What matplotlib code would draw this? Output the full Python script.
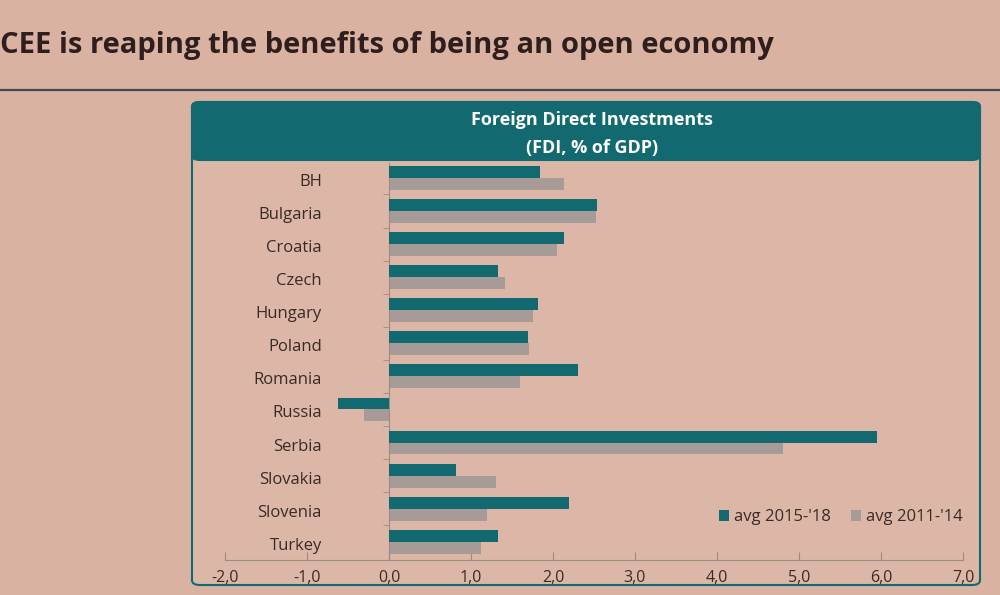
import numpy as np
import matplotlib
matplotlib.use("Agg")
import matplotlib.pyplot as plt
from matplotlib.patches import FancyBboxPatch
from matplotlib.lines import Line2D
import matplotlib.transforms as mtransforms

plt.rcParams['font.family'] = ['Open Sans', 'DejaVu Sans']

countries = ['BH', 'Bulgaria', 'Croatia', 'Czech', 'Hungary', 'Poland',
             'Romania', 'Russia', 'Serbia', 'Slovakia', 'Slovenia', 'Turkey']
avg_15_18 = [1.84, 2.54, 2.14, 1.33, 1.82, 1.69, 2.30, -0.62, 5.95, 0.82, 2.20, 1.33]
avg_11_14 = [2.13, 2.53, 2.05, 1.41, 1.75, 1.71, 1.60, -0.30, 4.80, 1.30, 1.20, 1.12]
xticks = [-2, -1, 0, 1, 2, 3, 4, 5, 6, 7]
xtick_labels = ['-2,0', '-1,0', '0,0', '1,0', '2,0', '3,0', '4,0', '5,0', '6,0', '7,0']

bg = '#d9b2a2'
panel_bg = '#dcb7a7'
teal = '#126a70'
grey = '#a69b96'
text_col = '#3a2a26'

W, H = 1000, 595
fig = plt.figure(figsize=(10, 5.95), dpi=100, facecolor=bg)

# slide title and rule
fig.text(0.0, 1 - 46 / H, 'CEE is reaping the benefits of being an open economy',
         fontsize=21, fontweight='bold', color='#2e1e1c', va='center', ha='left')
fig.add_artist(Line2D([0, 1], [1 - 90 / H, 1 - 90 / H], color='#3f4d4f', lw=1.6))

# chart panel with teal header
panel = FancyBboxPatch((192 / W, 1 - 585 / H), (980 - 192) / W, (585 - 102) / H,
                       boxstyle='round,pad=0,rounding_size=0.008',
                       transform=fig.transFigure, facecolor=panel_bg,
                       edgecolor=teal, lw=1.5, zorder=0)
fig.add_artist(panel)
header = FancyBboxPatch((192 / W, 1 - 160 / H), (980 - 192) / W, (160 - 102) / H,
                        boxstyle='round,pad=0,rounding_size=0.008',
                        transform=fig.transFigure, facecolor=teal,
                        edgecolor=teal, lw=1.5, zorder=0.5)
fig.add_artist(header)
fig.text(592 / W, 1 - 120 / H, 'Foreign Direct Investments', fontsize=13,
         fontweight='bold', color='white', ha='center', va='center')
fig.text(592 / W, 1 - 148 / H, '(FDI, % of GDP)', fontsize=13,
         fontweight='bold', color='white', ha='center', va='center')

ax = fig.add_axes([225 / W, 1 - 560 / H, (963 - 225) / W, (560 - 163) / H])
ax.set_facecolor('none')

y = np.arange(len(countries))
h = 0.36
ax.barh(y - 0.18, avg_15_18, height=h, color=teal, label="avg 2015-'18", zorder=3)
ax.barh(y + 0.18, avg_11_14, height=h, color=grey, label="avg 2011-'14", zorder=2)

ax.set_xlim(-2, 7)
ax.set_ylim(len(countries) - 0.45, -0.45)

for s in ['top', 'right']:
    ax.spines[s].set_visible(False)
ax.spines['left'].set_position(('data', 0))
ax.spines['left'].set_color('#9c8a84')
ax.spines['bottom'].set_color('#9c8a84')

ax.set_yticks([])
ax.set_yticks(np.arange(len(countries) - 1) + 0.5, minor=True)
ax.tick_params(axis='y', which='minor', length=4, direction='out',
               color='#9c8a84', labelleft=False)

ax.set_xticks(xticks)
ax.set_xticklabels(xtick_labels)
ax.tick_params(axis='x', direction='in', length=6, color='#9c8a84',
               labelsize=11.5, labelcolor=text_col, pad=7)

trans = mtransforms.blended_transform_factory(fig.transFigure, ax.transData)
for i, c in enumerate(countries):
    ax.text(322 / W, i + 0.12, c, transform=trans, ha='right', va='center',
            fontsize=12, color=text_col)

ax.legend(loc='lower right', bbox_to_anchor=(1.02, 0.05), ncol=2, frameon=False,
          fontsize=12, handlelength=0.6, handleheight=0.6, handletextpad=0.3,
          columnspacing=1.2, labelcolor=text_col)

fig.savefig('out.png', dpi=100, facecolor=bg)
